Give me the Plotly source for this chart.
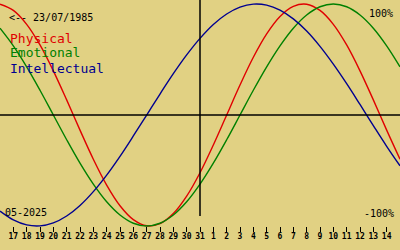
import plotly.graph_objects as go

# ---- data ----
day_labels = ["16", "17", "18", "19", "20", "21", "22", "23", "24", "25", "26", "27",
              "28", "29", "30", "31", "1", "2", "3", "4", "5", "6", "7", "8", "9",
              "10", "11", "12", "13", "14", "15"]
physical = [0.998, 0.942, 0.817, 0.631, 0.398, 0.136, -0.136, -0.398, -0.631, -0.817,
            -0.942, -0.998, -0.979, -0.888, -0.731, -0.520, -0.270, 0.0, 0.270, 0.520,
            0.731, 0.888, 0.979, 0.998, 0.942, 0.817, 0.631, 0.398, 0.136, -0.136, -0.398]
emotional = [0.782, 0.623, 0.434, 0.223, 0.0, -0.223, -0.434, -0.623, -0.782, -0.901,
             -0.975, -1.0, -0.975, -0.901, -0.782, -0.623, -0.434, -0.223, 0.0, 0.223,
             0.434, 0.623, 0.782, 0.901, 0.975, 1.0, 0.975, 0.901, 0.782, 0.623, 0.434]
intellectual = [-0.866, -0.945, -0.990, -0.999, -0.972, -0.910, -0.815, -0.690, -0.541,
                -0.372, -0.189, 0.0, 0.189, 0.372, 0.541, 0.690, 0.815, 0.910, 0.972,
                0.999, 0.990, 0.945, 0.866, 0.756, 0.618, 0.458, 0.282, 0.095, -0.095,
                -0.282, -0.458]
series_names = ["Physical", "Emotional", "Intellectual"]
series_colors = ["#E00000", "#008000", "#000090"]
birth_label = "<-- 23/07/1985"
month_label = "05-2025"
today_label = "31"
top_label = "100%"
bottom_label = "-100%"

W, H = 400, 250
BG = "#E1D183"
MONO = "DejaVu Sans Mono, monospace"

x = list(range(len(day_labels)))
tick_idx = x[1:-1]

fig = go.Figure()
for name, vals, col in zip(series_names, [physical, emotional, intellectual], series_colors):
    fig.add_trace(go.Scatter(x=x, y=vals, mode="lines", name=name,
                             line=dict(color=col, width=1.4, shape="spline"),
                             hoverinfo="skip"))

today_x = day_labels.index(today_label)

# horizontal zero line
fig.add_shape(type="line", xref="paper", yref="y", x0=0, x1=1, y0=0, y1=0,
              line=dict(color="black", width=1.5))
# vertical "today" line
fig.add_shape(type="line", xref="x", yref="paper", x0=today_x, x1=today_x,
              y0=1 - 216 / H, y1=1, line=dict(color="black", width=1.5))


def ann(text, px, py, color="black", size=10, anchor="left"):
    fig.add_annotation(text=text, xref="paper", yref="paper",
                       x=px / W, y=1 - py / H, xanchor=anchor, yanchor="middle",
                       showarrow=False, borderpad=0,
                       font=dict(family=MONO, size=size, color=color))


ann(birth_label, 8, 17)
for i, (name, col) in enumerate(zip(series_names, series_colors)):
    ann(name, 9, 38 + 15 * i, col, 13)
ann(top_label, 394, 13, anchor="right")
ann(bottom_label, 395, 213, anchor="right")
ann(month_label, 4, 212)

fig.update_layout(
    width=W, height=H,
    margin=dict(l=0, r=0, t=0, b=0),
    paper_bgcolor=BG, plot_bgcolor=BG,
    showlegend=False,
    xaxis=dict(range=[0, len(day_labels) - 1], anchor="free", position=1 - 225.5 / H,
               showgrid=False, zeroline=False, showline=False,
               ticks="outside", ticklen=5, tickwidth=1, tickcolor="black",
               tickmode="array", tickvals=tick_idx,
               ticktext=[day_labels[i] for i in tick_idx],
               ticklabelstandoff=-2,
               tickfont=dict(family="DejaVu Sans Mono, monospace", size=8,
                             color="black", weight="bold"),
               fixedrange=True),
    yaxis=dict(range=[-1.216, 1.036], visible=False, fixedrange=True),
)

fig.write_html("out.html", config={"displayModeBar": False})
